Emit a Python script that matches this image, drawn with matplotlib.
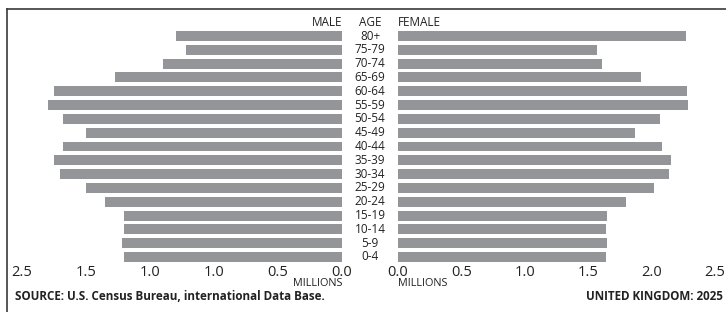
import matplotlib
matplotlib.use("Agg")
import matplotlib.pyplot as plt
from matplotlib.lines import Line2D

plt.rcParams["font.family"] = ["Open Sans", "DejaVu Sans"]

age_groups = ["0-4", "5-9", "10-14", "15-19", "20-24", "25-29", "30-34", "35-39",
              "40-44", "45-49", "50-54", "55-59", "60-64", "65-69", "70-74", "75-79", "80+"]
male = [1.70, 1.72, 1.70, 1.70, 1.85, 2.00, 2.20, 2.25,
        2.18, 2.00, 2.18, 2.30, 2.25, 1.77, 1.40, 1.22, 1.30]
female = [1.64, 1.65, 1.64, 1.65, 1.80, 2.02, 2.14, 2.15,
          2.08, 1.87, 2.07, 2.29, 2.28, 1.92, 1.61, 1.57, 2.27]
tick_values = [0.0, 0.5, 1.0, 1.5, 2.0, 2.5]
male_tick_labels = ["0.0", "0.5", "1.0", "1.0", "1.5", "2.5"]
female_tick_labels = ["0.0", "0.5", "1.0", "1.5", "2.0", "2.5"]

W, H = 726, 312
bar_color = "#939598"
text_color = "#222222"

fig = plt.figure(figsize=(W / 100, H / 100), dpi=100)

top_px, bottom_px = 29.1, 263.9
ax_bottom = 1 - bottom_px / H
ax_height = (bottom_px - top_px) / H
ax_male = fig.add_axes([22 / W, ax_bottom, 320 / W, ax_height])
ax_female = fig.add_axes([398 / W, ax_bottom, 317 / W, ax_height])

positions = list(range(len(age_groups)))
ax_male.barh(positions, male, height=0.72, color=bar_color)
ax_female.barh(positions, female, height=0.72, color=bar_color)

ax_male.set_xlim(2.5, 0)
ax_female.set_xlim(0, 2.5)
for ax, labels in ((ax_male, male_tick_labels), (ax_female, female_tick_labels)):
    ax.set_ylim(-0.5, len(age_groups) - 0.5)
    ax.set_xticks(tick_values)
    ax.set_xticklabels(labels, fontsize=10.5, color=text_color)
    ax.set_yticks([])
    ax.tick_params(axis="x", length=0, pad=0.5)
    for spine in ax.spines.values():
        spine.set_visible(False)
    ax.patch.set_visible(False)

# age labels in the middle gap
for pos, label in zip(positions, age_groups):
    y = ax_bottom + ax_height * (pos + 0.5) / len(age_groups)
    fig.text(370 / W, y, label, ha="center", va="center", fontsize=8.5, color=text_color)

header_y = 1 - 22 / H
fig.text(342 / W, header_y, "MALE", ha="right", va="center", fontsize=8.5, color=text_color)
fig.text(370 / W, header_y, "AGE", ha="center", va="center", fontsize=8.5, color=text_color)
fig.text(398 / W, header_y, "FEMALE", ha="left", va="center", fontsize=8.5, color=text_color)

millions_y = 1 - 283 / H
fig.text(342 / W, millions_y, "MILLIONS", ha="right", va="center", fontsize=7.8, color=text_color)
fig.text(398 / W, millions_y, "MILLIONS", ha="left", va="center", fontsize=7.8, color=text_color)

foot_y = 1 - 297 / H
fig.text(15 / W, foot_y, "SOURCE: U.S. Census Bureau, international Data Base.",
         ha="left", va="center", fontsize=8.4, fontweight="bold", color=text_color)
fig.text(723 / W, foot_y, "UNITED KINGDOM: 2025",
         ha="right", va="center", fontsize=8.4, fontweight="bold", color=text_color)

# frame: top and left rules
frame_x = 7 / W
frame_y = 1 - 9 / H
fig.add_artist(Line2D([frame_x, 1], [frame_y, frame_y], color="#3a3a3a", lw=1.2))
fig.add_artist(Line2D([frame_x, frame_x], [0, frame_y], color="#3a3a3a", lw=1.2))

fig.savefig("out.png", dpi=100)
